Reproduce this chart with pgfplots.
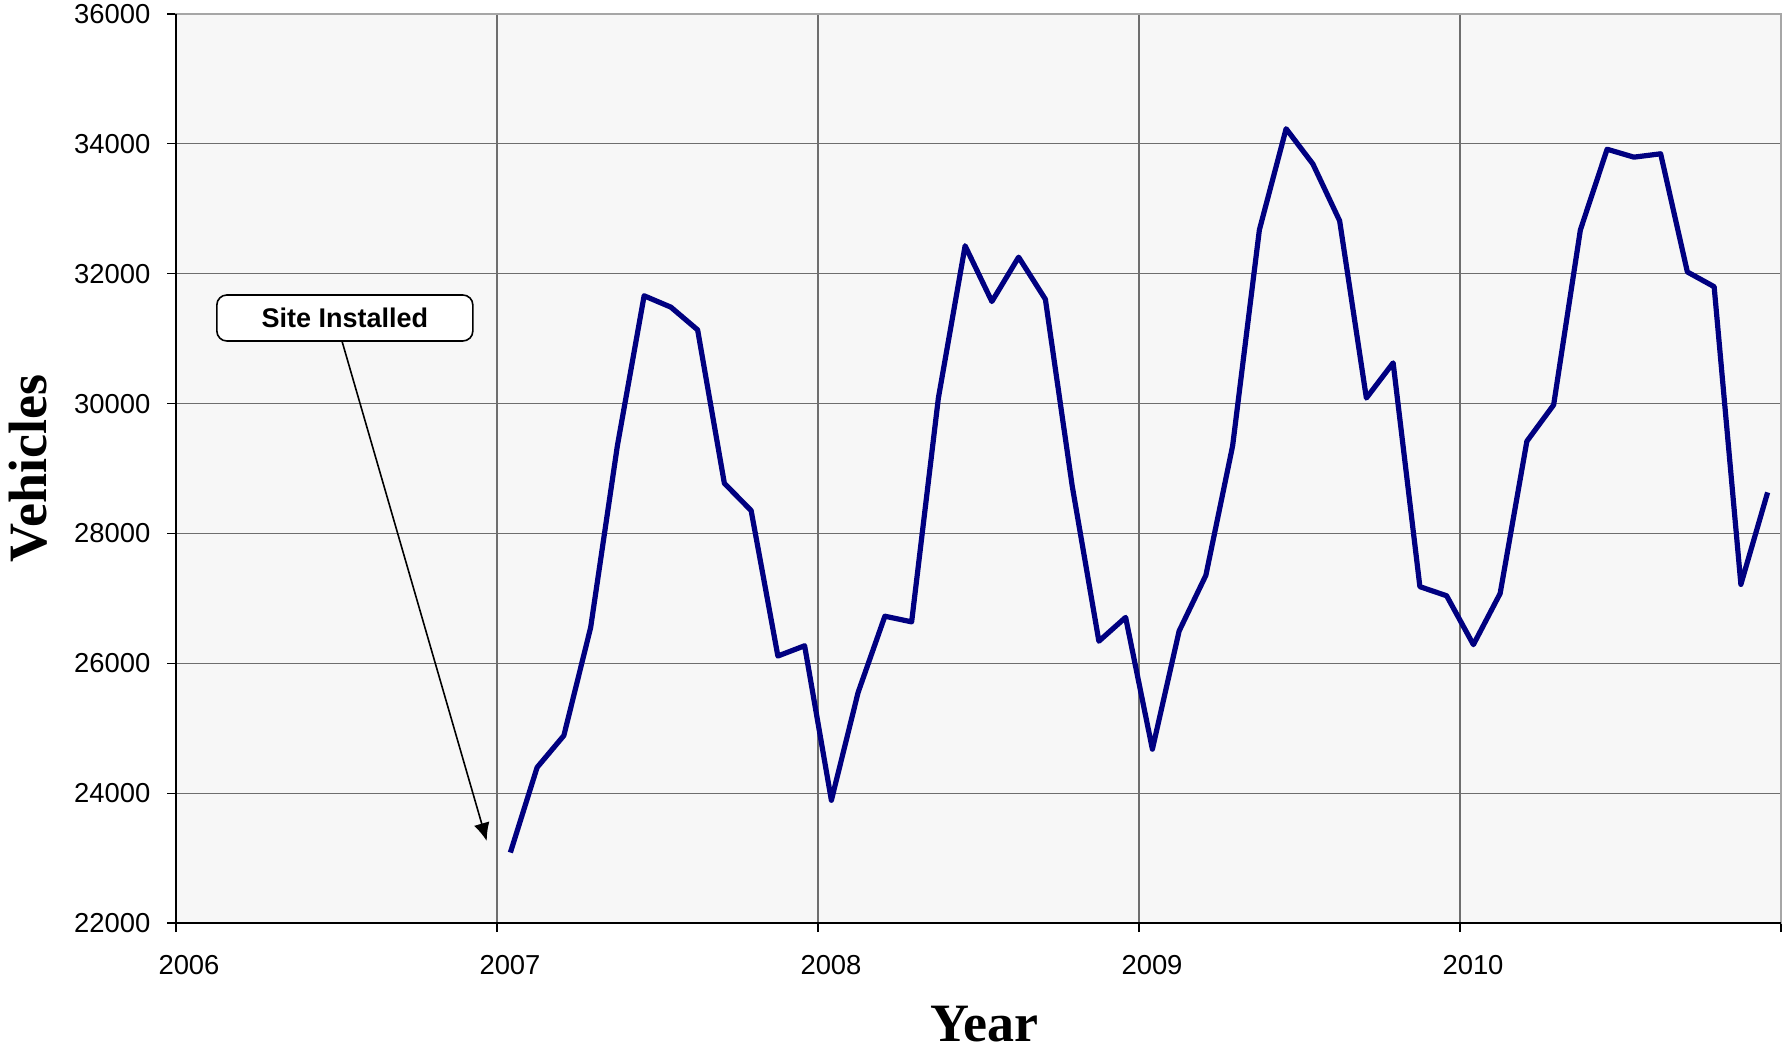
\documentclass[border=0pt]{standalone}
\usepackage{fontspec}
\setmainfont{Liberation Sans}
\newfontfamily\timesfont{Liberation Serif}
\usepackage{pgfplots}
\pgfplotsset{compat=1.18}
\usetikzlibrary{arrows.meta}

\definecolor{linenavy}{HTML}{000080}
\definecolor{plotbg}{HTML}{F7F7F7}
\definecolor{gridgray}{HTML}{6E6E6E}

% monthly counts, Jan 2007 - Dec 2010 (plotted mid-month)
\begin{document}
\begin{tikzpicture}
\begin{axis}[
    name=ax,
    scale only axis,
    width=802.5pt, height=454.5pt,
    xmin=2006, xmax=2011,
    ymin=22000, ymax=36000,
    xtick={2006,2007,2008,2009,2010,2011},
    xticklabels={2006,2007,2008,2009,2010,},
    ytick={22000,24000,...,36000},
    /pgf/number format/assume math mode=true,
    scaled y ticks=false,
    yticklabel={\pgfmathprintnumber[1000 sep={}]{\tick}},
    tick label style={font=\fontsize{13.7}{16}\selectfont},
    xticklabel style={xshift=6.5pt, yshift=-8.2pt},
    yticklabel style={xshift=-4.8pt},
    tick align=outside,
    major tick length=4.5pt,
    xtick pos=bottom, ytick pos=left,
    tick style={black, line width=0.6pt},
    grid=major,
    major grid style={gridgray, line width=0.6pt},
    axis background/.style={fill=plotbg},
    axis line style={draw=gray!70, line width=0.8pt},
    clip=false,
]
\addplot[linenavy, line width=2.6pt, line join=round] table {
x y
2007.0417 23085
2007.1250 24397
2007.2083 24887
2007.2917 26550
2007.3750 29350
2007.4583 31660
2007.5417 31485
2007.6250 31135
2007.7083 28772
2007.7917 28352
2007.8750 26112
2007.9583 26270
2008.0417 23890
2008.1250 25552
2008.2083 26725
2008.2917 26638
2008.3750 30085
2008.4583 32430
2008.5417 31572
2008.6250 32255
2008.7083 31607
2008.7917 28737
2008.8750 26340
2008.9583 26707
2009.0417 24677
2009.1250 26497
2009.2083 27355
2009.2917 29350
2009.3750 32675
2009.4583 34233
2009.5417 33690
2009.6250 32815
2009.7083 30085
2009.7917 30627
2009.8750 27180
2009.9583 27040
2010.0417 26287
2010.1250 27075
2010.2083 29420
2010.2917 29980
2010.3750 32675
2010.4583 33917
2010.5417 33795
2010.6250 33847
2010.7083 32027
2010.7917 31800
2010.8750 27215
2010.9583 28632
};
% black left and bottom axis lines
\draw[black, line width=1pt] (rel axis cs:0,1) -- (rel axis cs:0,0) -- (rel axis cs:1,0);
% annotation
\draw[black, line width=0.8pt, -{Latex[length=9pt, width=8pt]}]
    (axis cs:2006.517,30964) -- (axis cs:2006.968,23263);
\node[draw=black, line width=0.8pt, fill=white, rounded corners=5pt,
      minimum width=128pt, minimum height=23pt, inner sep=0pt,
      font=\bfseries\fontsize{13.5}{16}\selectfont]
    at (axis cs:2006.526,31318) {Site Installed};
% axis titles
\node[font=\timesfont\bfseries\fontsize{27}{30}\selectfont, anchor=base]
    at ([xshift=3pt, yshift=-59pt]rel axis cs:0.5,0) {Year};
\node[font=\timesfont\bfseries\fontsize{27}{30}\selectfont, rotate=90, anchor=center]
    at ([xshift=-74pt]rel axis cs:0,0.5) {Vehicles};
\end{axis}
\pgfresetboundingbox
\path ([xshift=-88pt, yshift=-63.5pt]ax.south west) rectangle ([xshift=0.5pt, yshift=7pt]ax.north east);
\end{tikzpicture}
\end{document}
